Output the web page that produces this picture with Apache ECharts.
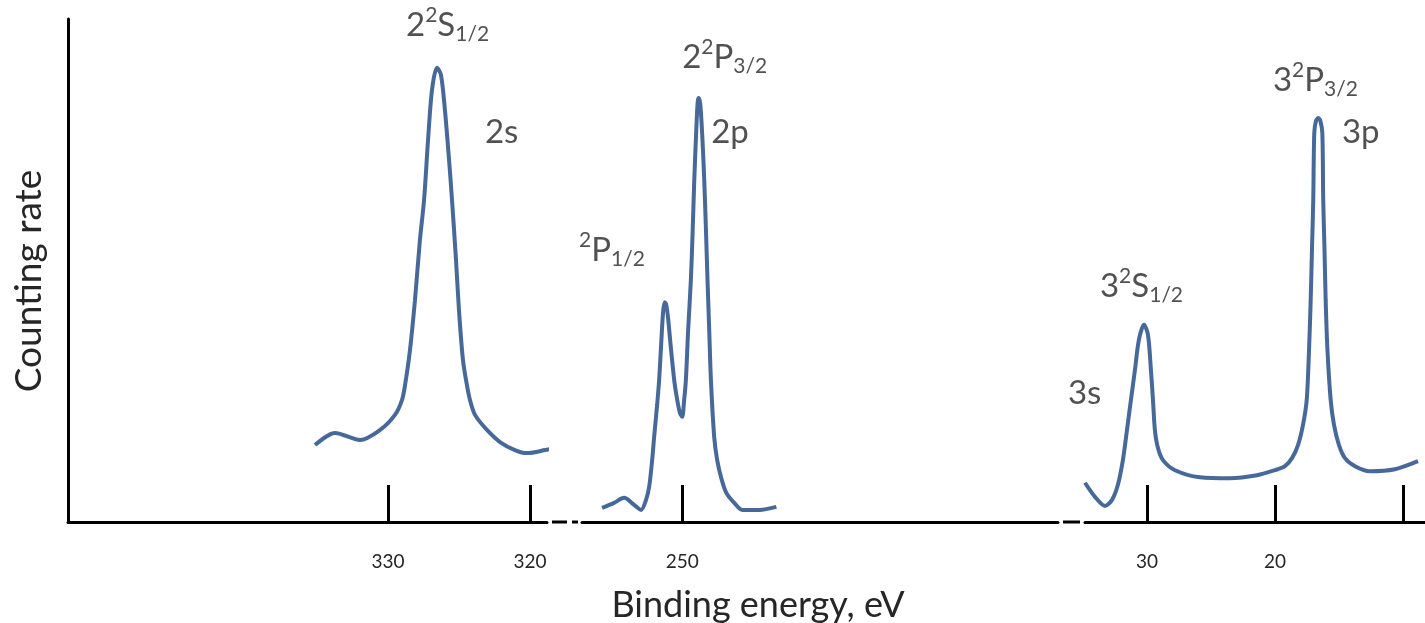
<!DOCTYPE html>
<html>
<head>
<meta charset="utf-8">
<script src="https://cdn.jsdelivr.net/npm/echarts@6/dist/echarts.min.js"></script>
<style>
  html, body { margin: 0; padding: 0; background: #fff; }
  #main { width: 1425px; height: 623px; }
</style>
</head>
<body>
<div id="main"></div>
<script>
// binding energy (eV) / counting rate (arbitrary, 0..100)
var energy2s = [335.14, 333.73, 331.97, 330.56, 329.51, 329.01, 328.80, 328.45, 328.10, 327.75, 327.46, 327.18, 326.90, 326.55,
	326.27, 325.99, 325.70, 325.49, 325.21, 325.00, 324.72, 324.44, 324.23, 323.87, 323.03, 322.11, 321.06, 320.21, 318.94, 317.68];
var rate2s = [15.3, 17.7, 16.3, 18.3, 21.3, 24.3, 27.2, 34.2, 44.1, 56.1, 64.0, 75.9, 85.9, 90.3,
	88.9, 81.9, 72.0, 64.0, 52.1, 42.1, 32.2, 27.2, 24.3, 21.3, 18.3, 15.9, 14.3, 13.7, 14.3, 15.1];

var energy2p = [255.63, 254.79, 254.08, 253.38, 252.89, 252.54, 252.32, 252.11, 251.97, 251.76, 251.62, 251.48, 251.34, 251.23,
	251.13, 250.99, 250.80, 250.56, 250.35, 250.16, 250.00, 249.86, 249.74, 249.58, 249.39, 249.26, 249.15, 249.01,
	248.91, 248.84, 248.73, 248.59, 248.45, 248.33, 248.22, 248.10, 247.98, 247.75, 247.54, 247.25, 246.90, 246.34,
	245.77, 244.58, 243.38];
var rate2p = [2.8, 3.8, 4.8, 3.4, 2.4, 4.4, 7.0, 12.3, 16.9, 23.3, 28.2, 35.2, 41.8, 43.7,
	43.3, 40.5, 34.8, 28.2, 24.3, 21.7, 20.9, 24.3, 28.2, 38.2, 48.1, 58.1, 68.0, 77.9,
	83.5, 84.3, 83.1, 76.9, 68.0, 58.1, 48.1, 38.2, 28.2, 16.9, 12.3, 8.7, 5.8, 3.8,
	2.4, 2.4, 3.0];

var energy3 = [34.84, 34.06, 33.28, 32.73, 32.27, 31.88, 31.56, 31.25, 30.94, 30.63, 30.23, 29.92, 29.69, 29.53, 29.38, 29.14,
	28.75, 27.81, 25.86, 23.52, 21.41, 20.00, 19.22, 18.67, 18.20, 17.81, 17.52, 17.34, 17.21, 17.11, 17.01, 16.93,
	16.80, 16.62, 16.45, 16.30, 16.23, 16.13, 16.04, 15.90, 15.65, 15.39, 15.00, 14.53, 13.75, 12.58, 10.63, 8.83];
var rate3 = [7.8, 5.0, 3.2, 4.4, 7.4, 12.3, 18.3, 24.3, 30.2, 36.2, 39.2, 37.2, 30.2, 24.3, 18.3, 14.7,
	12.3, 10.3, 8.9, 8.7, 9.3, 10.3, 11.1, 12.7, 15.3, 19.3, 24.3, 34.2, 44.1, 54.1, 64.0, 77.3,
	79.7, 80.3, 79.7, 77.3, 64.0, 54.1, 44.1, 34.2, 24.3, 19.3, 15.3, 12.7, 11.1, 10.1, 10.5, 12.1];

// tick values for each piece of the broken axis
var ticksA = [330, 320];
var ticksB = [250];
var ticksC = [30, 20, 10];
var labelsC = [30, 20];

// peak labels: [energy, rate, rich text]
var notesA = [
	[328.73, 98.8, '{n|2}{sup|2}{n|S}{sub|1/2}'],
	[323.17, 77.5, '{n|2s}']
];
var notesB = [
	[250.00, 92.4, '{n|2}{sup|2}{n|P}{sub|3/2}'],
	[247.96, 77.5, '{n|2p}'],
	[257.25, 54.1, '{sup|2}{n|P}{sub|1/2}']
];
var notesC = [
	[33.67, 46.9, '{n|3}{sup|2}{n|S}{sub|1/2}'],
	[36.17, 25.6, '{n|3s}'],
	[20.16, 87.9, '{n|3}{sup|2}{n|P}{sub|3/2}'],
	[14.77, 77.5, '{n|3p}']
];

var FONT = 'Lato';
var TXT = '#262626';
var LINE = '#46699a';

function zip(xs, ys) {
	var out = [];
	for (var i = 0; i < xs.length; i++) out.push([xs[i], ys[i]]);
	return out;
}

function xAxisPart(idx, min, max, ticks, labels) {
	return {
		type: 'value',
		gridIndex: idx,
		inverse: true,
		min: min,
		max: max,
		axisLine: { show: true, lineStyle: { color: '#000', width: 3 } },
		axisTick: { show: true, inside: true, length: 37, customValues: ticks, lineStyle: { color: '#000', width: 3 } },
		axisLabel: { show: true, customValues: labels, margin: 30, fontSize: 19, fontFamily: FONT, color: TXT },
		splitLine: { show: false }
	};
}

function yAxisPart(idx, visible) {
	return {
		type: 'value',
		gridIndex: idx,
		min: 0,
		max: 100,
		show: visible,
		axisLine: { show: true, lineStyle: { color: '#000', width: 3 } },
		axisTick: { show: false },
		axisLabel: { show: false },
		splitLine: { show: false }
	};
}

var rich = {
	n: { fontSize: 33, fontFamily: FONT, color: TXT, lineHeight: 40 },
	sup: { fontSize: 21, fontFamily: FONT, color: TXT, lineHeight: 22, verticalAlign: 'top' },
	sub: { fontSize: 21, fontFamily: FONT, color: TXT, lineHeight: 22, verticalAlign: 'bottom', padding: [10, 0, 0, 0] }
};

function curve(idx, data) {
	return {
		type: 'line',
		xAxisIndex: idx,
		yAxisIndex: idx,
		data: data,
		smooth: 0.3,
		symbol: 'none',
		lineStyle: { color: LINE, width: 4 },
		silent: true
	};
}

function notes(idx, list) {
	return {
		type: 'scatter',
		xAxisIndex: idx,
		yAxisIndex: idx,
		clip: false,
		symbolSize: 0,
		silent: true,
		data: list.map(function (d) { return { value: [d[0], d[1]], text: d[2] }; }),
		label: {
			show: true,
			position: 'inside',
			align: 'left',
			verticalAlign: 'middle',
			formatter: function (p) { return p.data.text; },
			rich: rich
		}
	};
}

var myChart = echarts.init(document.getElementById('main'));

var option = {
	animation: false,
	backgroundColor: '#fff',
	grid: [
		{ left: 68, right: 878, top: 19, bottom: 101 },
		{ left: 582, right: 367, top: 19, bottom: 101 },
		{ left: 1085, right: 0, top: 19, bottom: 101 }
	],
	xAxis: [
		xAxisPart(0, 318.80, 352.54, ticksA, ticksA),
		xAxisPart(1, 223.59, 257.04, ticksB, ticksB),
		xAxisPart(2, 8.28, 34.84, ticksC, labelsC)
	],
	yAxis: [yAxisPart(0, true), yAxisPart(1, false), yAxisPart(2, false)],
	graphic: [
		// dashes across the axis breaks
		{ type: 'line', shape: { x1: 552, y1: 522, x2: 567, y2: 522 }, style: { stroke: '#000', lineWidth: 3 } },
		{ type: 'line', shape: { x1: 572, y1: 522, x2: 578, y2: 522 }, style: { stroke: '#000', lineWidth: 3 } },
		{ type: 'line', shape: { x1: 1063, y1: 522, x2: 1080, y2: 522 }, style: { stroke: '#000', lineWidth: 3 } },
		{
			type: 'text',
			x: 758,
			y: 623,
			style: { text: 'Binding energy, eV', font: '36px Lato', fill: TXT, textAlign: 'center', textVerticalAlign: 'bottom' }
		},
		{
			type: 'text',
			x: 29,
			y: 281,
			rotation: Math.PI / 2,
			style: { text: 'Counting rate', font: '37px Lato', fill: TXT, textAlign: 'center', textVerticalAlign: 'middle' }
		}
	],
	series: [
		curve(0, zip(energy2s, rate2s)),
		curve(1, zip(energy2p, rate2p)),
		curve(2, zip(energy3, rate3)),
		notes(0, notesA),
		notes(1, notesB),
		notes(2, notesC)
	]
};

myChart.setOption(option);
</script>
</body>
</html>
